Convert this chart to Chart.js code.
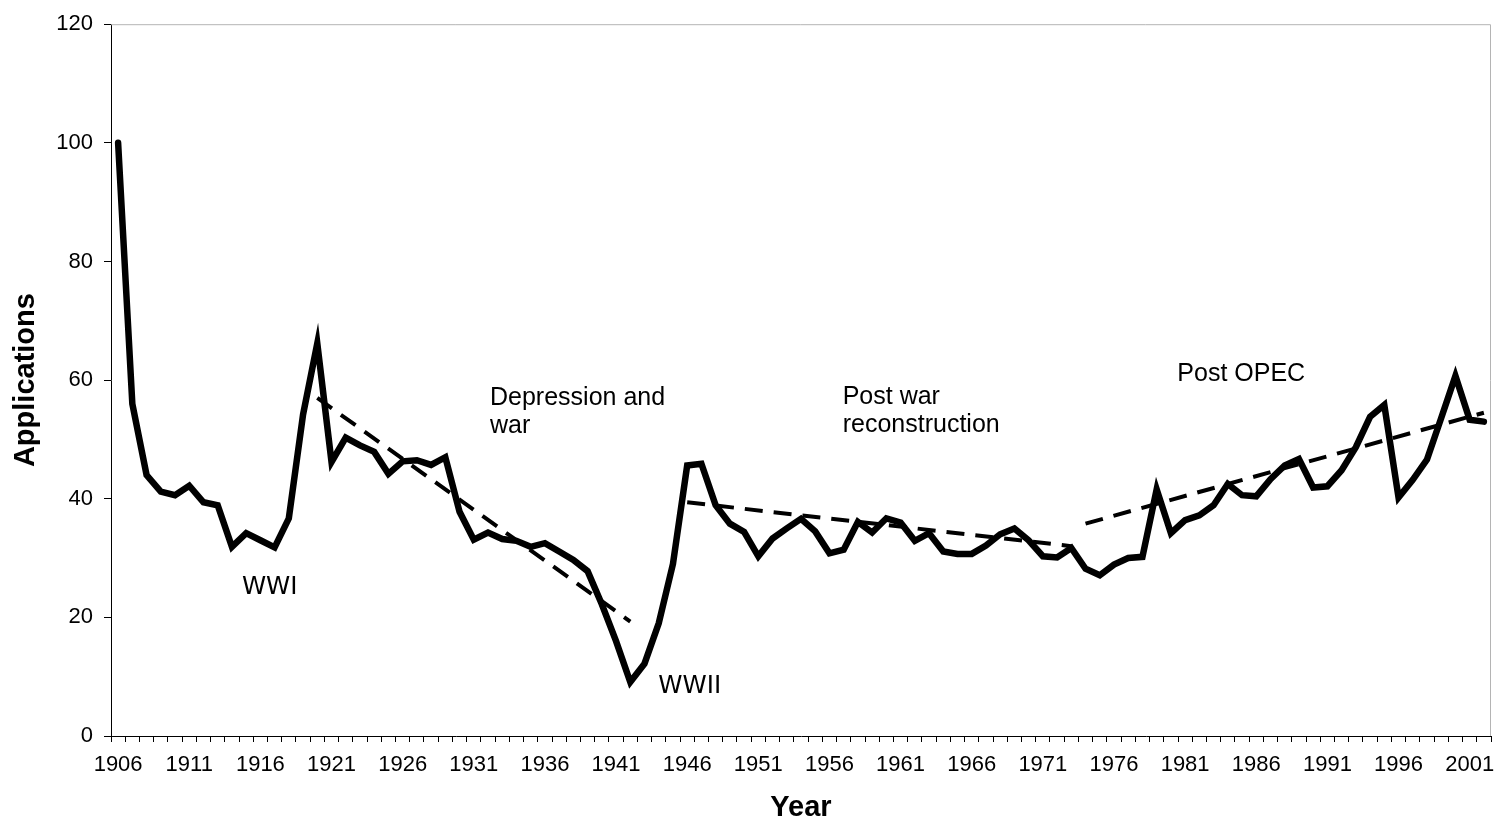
<!DOCTYPE html>
<html>
<head>
<meta charset="utf-8">
<title>Applications by year</title>
<script src="https://cdn.jsdelivr.net/npm/chart.js@4.4.1/dist/chart.umd.min.js"></script>
<style>
  html, body { margin: 0; padding: 0; background: #fff; }
  canvas { display: block; }
</style>
</head>
<body>
<canvas id="myChart" width="1497" height="823"></canvas>
<script>
  // categories: one per year, 1906 - 2002
  const firstYear = 1906;
  const years = Array.from({ length: 97 }, (_, i) => String(firstYear + i));

  // applications per year
  const applications = [
    100, 56, 44, 41.2, 40.6, 42.2, 39.4, 38.9, 31.9, 34.2,        // 1906-1915
    33, 31.8, 36.7, 54.2, 66.2, 46.2, 50.3, 49, 47.9, 44.2,       // 1916-1925
    46.3, 46.5, 45.7, 47, 37.8, 33.1, 34.3, 33.2, 32.9, 31.9,     // 1926-1935
    32.5, 31.1, 29.7, 27.8, 22.2, 16, 9.1, 12.2, 19, 29,          // 1936-1945
    45.6, 45.9, 38.9, 35.8, 34.4, 30.3, 33.3, 35, 36.6, 34.5,     // 1946-1955
    30.8, 31.4, 36.1, 34.3, 36.7, 36, 32.9, 34.2, 31.1, 30.7,     // 1956-1965
    30.7, 32.1, 34, 35, 33, 30.3, 30.1, 31.7, 28.2, 27.1,         // 1966-1975
    28.9, 30, 30.2, 41.6, 34.2, 36.4, 37.2, 38.9, 42.5, 40.6,     // 1976-1985
    40.4, 43.3, 45.6, 46.7, 41.9, 42.1, 44.8, 48.7, 53.8, 55.8,   // 1986-1995
    40.2, 43.2, 46.6, 53.6, 60.7, 53.3, 53                        // 1996-2002
  ];

  // dashed trend segments (start / end of each)
  const trendStartYears = [1920, 1946, 1974];
  const trendEndYears = [1942, 1973, 2002];
  const trendStartValues = [57.0, 39.4, 35.8];
  const trendEndValues = [19.3, 32.0, 54.5];

  // y axis ticks
  const yTicks = [0, 20, 40, 60, 80, 100, 120];
  const labelEvery = 5;

  // text notes, anchored at (year, value) of the first line's baseline
  const noteTexts = [['WWI'], ['Depression and', 'war'], ['WWII'], ['Post war', 'reconstruction'], ['Post OPEC']];
  const noteYears = [1914.7, 1932.14, 1943.97, 1956.93, 1980.45];
  const noteValues = [23.9, 55.85, 7.3, 55.95, 59.78];
  const noteFonts = ['24.5px "DejaVu Sans"', '25px "Liberation Sans"', '24.5px "DejaVu Sans"', '25px "Liberation Sans"', '25px "Liberation Sans"'];

  function trendData(k) {
    const d = years.map(() => null);
    d[trendStartYears[k] - firstYear] = trendStartValues[k];
    d[trendEndYears[k] - firstYear] = trendEndValues[k];
    return d;
  }

  const trendSets = trendStartYears.map((_, k) => ({
    label: 'trend ' + (k + 1),
    data: trendData(k),
    borderColor: '#000',
    borderWidth: 4,
    borderDash: [18, 11],
    pointRadius: 0,
    spanGaps: true,
    tension: 0,
  }));

  const frame = {
    id: 'frame',
    beforeDatasetsDraw(chart) {
      const { ctx, chartArea: a } = chart;
      ctx.save();
      ctx.strokeStyle = '#b4b4b4';
      ctx.lineWidth = 1;
      ctx.beginPath();
      ctx.moveTo(a.left, a.top + 0.5);
      ctx.lineTo(a.right - 0.5, a.top + 0.5);
      ctx.lineTo(a.right - 0.5, a.bottom);
      ctx.stroke();
      ctx.restore();
    }
  };

  const notes = {
    id: 'notes',
    afterDatasetsDraw(chart) {
      const { ctx } = chart;
      const xs = chart.scales.x, ys = chart.scales.y;
      ctx.save();
      ctx.fillStyle = '#000';
      ctx.textAlign = 'left';
      ctx.textBaseline = 'alphabetic';
      noteTexts.forEach((lines, i) => {
        const x = xs.getPixelForValue(noteYears[i] - firstYear);
        const y = ys.getPixelForValue(noteValues[i]);
        ctx.font = noteFonts[i];
        lines.forEach((t, j) => ctx.fillText(t, x, y + j * 28));
      });
      ctx.restore();
    }
  };

  const config = {
    type: 'line',
    data: {
      labels: years,
      datasets: [
        {
          label: 'Applications',
          data: applications,
          borderColor: '#000',
          borderWidth: 6.5,
          pointRadius: 0,
          tension: 0,
          borderCapStyle: 'round',
          borderJoinStyle: 'miter',
        },
        ...trendSets
      ]
    },
    options: {
      responsive: false,
      animation: false,
      devicePixelRatio: 1,
      layout: { padding: { top: 19, right: 6, left: 0, bottom: 0 } },
      plugins: {
        legend: { display: false },
        tooltip: { enabled: false },
      },
      scales: {
        x: {
          type: 'category',
          offset: true,
          afterFit: (s) => { s.height = 87; },
          grid: { offset: true, drawOnChartArea: false, drawTicks: true, tickLength: 6, color: '#000' },
          border: { display: true, color: '#000', width: 1 },
          ticks: {
            autoSkip: false,
            maxRotation: 0,
            padding: 10,
            color: '#000',
            font: { family: '"Liberation Sans", Arial, sans-serif', size: 22 },
            callback: (v, i) => (i % labelEvery === 0 ? years[i] : ''),
          },
          title: {
            display: true,
            text: 'Year',
            color: '#000',
            font: { family: '"Liberation Sans", Arial, sans-serif', size: 29, weight: 'bold', lineHeight: 1 },
            padding: { top: 0, bottom: 1 },
          },
        },
        y: {
          min: yTicks[0],
          max: yTicks[yTicks.length - 1],
          afterFit: (s) => { s.width = 111; },
          afterBuildTicks: (s) => { s.ticks = yTicks.map(v => ({ value: v })); },
          grid: { drawOnChartArea: false, drawTicks: true, tickLength: 7, color: '#000' },
          border: { display: true, color: '#000', width: 1 },
          ticks: {
            padding: 11,
            color: '#000',
            font: { family: '"Liberation Sans", Arial, sans-serif', size: 22 },
          },
          title: {
            display: true,
            text: 'Applications',
            color: '#000',
            font: { family: '"Liberation Sans", Arial, sans-serif', size: 29, weight: 'bold', lineHeight: 1.2 },
            padding: { top: 9, bottom: 0 },
          },
        },
      },
    },
    plugins: [frame, notes],
  };

  window.onload = function() {
    const ctx = document.getElementById('myChart').getContext('2d');
    new Chart(ctx, config);
  };
</script>
</body>
</html>
